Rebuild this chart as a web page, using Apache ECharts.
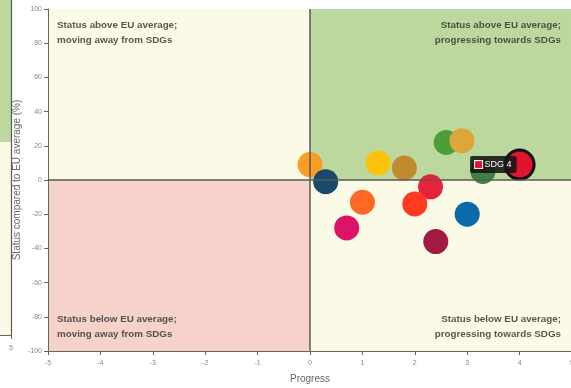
<!DOCTYPE html>
<html>
<head>
<meta charset="utf-8">
<script src="https://cdn.jsdelivr.net/npm/echarts@6/dist/echarts.min.js"></script>
<style>
  html, body { margin: 0; padding: 0; background: #ffffff; }
  #chart { width: 571px; height: 388px; }
</style>
</head>
<body>
<div id="chart"></div>
<script>
// SDG goals shown: progress score (x) and status vs EU average in % (y)
const goals    = ['SDG 11', 'SDG 17', 'SDG 7', 'SDG 12', 'SDG 3', 'SDG 2', 'SDG 13', 'SDG 1', 'SDG 5', 'SDG 9', 'SDG 10', 'SDG 16', 'SDG 8', 'SDG 4'];
const progress = [0.0, 0.3, 1.3, 1.8, 2.6, 2.9, 3.3, 2.3, 2.0, 1.0, 0.7, 3.0, 2.4, 4.0];
const status   = [9, -1, 10, 7, 22, 23, 5, -4, -14, -13, -28, -20, -36, 9];
const goalColors = ['#F99D26', '#19486A', '#FCC30B', '#BF8B2E', '#4C9F38', '#DDA63A', '#3F7E44', '#E5243B', '#FF3A21', '#FD6925', '#DD1367', '#0B6AA8', '#A21942', '#E0142C'];
const highlighted = 'SDG 4';

// Axis ticks
const xTicks = [-5, -4, -3, -2, -1, 0, 1, 2, 3, 4, 5];
const yTicks = [-100, -80, -60, -40, -20, 0, 20, 40, 60, 80, 100];

// Quadrant captions
const quadrantText = {
  tl: 'Status above EU average;\nmoving away from SDGs',
  tr: 'Status above EU average;\nprogressing towards SDGs',
  bl: 'Status below EU average;\nmoving away from SDGs',
  br: 'Status below EU average;\nprogressing towards SDGs'
};

const chart = echarts.init(document.getElementById('chart'), null, { renderer: 'canvas' });

const quadLabel = (pos, align, vAlign, dx) => ({
  show: true,
  position: pos,
  align: align,
  verticalAlign: vAlign,
  distance: 9,
  offset: [dx, 0],
  color: 'rgba(50,50,50,0.82)',
  fontFamily: 'Liberation Sans, Arial, sans-serif',
  fontWeight: 'bold',
  fontSize: 9.8,
  lineHeight: 15
});

const points = goals.map((g, i) => {
  const isHi = g === highlighted;
  return {
    name: g,
    value: [progress[i], status[i]],
    symbolSize: isHi ? 29 : 25,
    itemStyle: {
      color: goalColors[i],
      opacity: 1,
      borderColor: isHi ? '#111111' : 'transparent',
      borderWidth: isHi ? 3 : 0
    },
    z: isHi ? 5 : 2,
    label: isHi ? {
      show: true,
      position: 'left',
      distance: -13,
      formatter: '{sq|}{t| ' + g + '}',
      backgroundColor: 'rgba(20,20,20,0.88)',
      borderRadius: 2,
      padding: [4, 5, 4, 5],
      rich: {
        sq: { width: 7, height: 7, backgroundColor: goalColors[i], borderColor: '#ffffff', borderWidth: 1 },
        t: { color: '#ffffff', fontSize: 9, fontFamily: 'Liberation Sans, Arial, sans-serif' }
      }
    } : { show: false }
  };
});

const axisLabelStyle = { color: '#888888', fontSize: 7, fontFamily: 'Liberation Sans, Arial, sans-serif' };

chart.setOption({
  animation: false,
  grid: [
    { left: 48, right: -1, top: 9, bottom: 37, outerBoundsMode: 'none', containLabel: false },
    // neighbouring panel, only its right edge fits in the frame
    { left: 0, width: 11, top: 0, bottom: 53, outerBoundsMode: 'none', containLabel: false }
  ],
  xAxis: [
    {
      gridIndex: 0, type: 'value', min: xTicks[0], max: xTicks[xTicks.length - 1], interval: 1,
      name: 'Progress', nameLocation: 'middle', nameGap: 23,
      nameTextStyle: { color: '#666666', fontSize: 10, fontFamily: 'Liberation Sans, Arial, sans-serif' },
      axisLine: { onZero: false, lineStyle: { color: '#666666', width: 1 } },
      axisTick: { show: true, length: 4, lineStyle: { color: '#666666' } },
      axisLabel: Object.assign({ margin: 9 }, axisLabelStyle),
      splitLine: { show: true, lineStyle: { color: 'rgba(0,0,0,0.045)', width: 1 } }
    },
    {
      gridIndex: 1, type: 'value', min: 4, max: 5, interval: 1,
      axisLine: { onZero: false, lineStyle: { color: '#666666' } },
      axisTick: { show: true, length: 4, lineStyle: { color: '#666666' } },
      axisLabel: Object.assign({ margin: 10, showMinLabel: false }, axisLabelStyle),
      splitLine: { show: false }
    }
  ],
  yAxis: [
    {
      gridIndex: 0, type: 'value', min: yTicks[0], max: yTicks[yTicks.length - 1], interval: 20,
      name: 'Status compared to EU average (%)', nameLocation: 'middle', nameGap: 26, nameRotate: 90,
      nameMoveOverlap: false,
      nameTextStyle: { color: '#666666', fontSize: 10, fontFamily: 'Liberation Sans, Arial, sans-serif' },
      axisLine: { show: true, onZero: false, lineStyle: { color: '#666666', width: 1 } },
      axisTick: { show: true, length: 4, lineStyle: { color: '#666666' } },
      axisLabel: Object.assign({ margin: 6 }, axisLabelStyle),
      splitLine: { show: true, lineStyle: { color: 'rgba(0,0,0,0.045)', width: 1 } }
    },
    {
      gridIndex: 1, type: 'value', min: -193, max: 142,
      axisLine: { show: false }, axisTick: { show: false }, axisLabel: { show: false },
      splitLine: { show: false }
    }
  ],
  series: [
    {
      type: 'scatter',
      xAxisIndex: 0, yAxisIndex: 0,
      symbol: 'circle',
      data: points,
      emphasis: { disabled: true },
      markArea: {
        silent: true,
        z: 0,
        data: [
          [{ coord: [-5, 0], itemStyle: { color: '#FAFAE6' }, label: quadLabel('insideTopLeft', 'left', 'top', 0), name: quadrantText.tl }, { coord: [0, 100] }],
          [{ coord: [0, 0], itemStyle: { color: '#BCD89F' }, label: quadLabel('insideTopRight', 'right', 'top', -2), name: quadrantText.tr }, { coord: [5, 100] }],
          [{ coord: [-5, -100], itemStyle: { color: '#F6D2CB' }, label: quadLabel('insideBottomLeft', 'left', 'bottom', 0), name: quadrantText.bl }, { coord: [0, 0] }],
          [{ coord: [0, -100], itemStyle: { color: '#FAFAE6' }, label: quadLabel('insideBottomRight', 'right', 'bottom', -2), name: quadrantText.br }, { coord: [5, 0] }]
        ]
      },
      markLine: {
        silent: true,
        symbol: 'none',
        label: { show: false },
        lineStyle: { color: '#5a5a5a', width: 1.5, type: 'solid' },
        data: [{ xAxis: 0 }, { yAxis: 0 }]
      }
    },
    {
      type: 'scatter',
      xAxisIndex: 1, yAxisIndex: 1,
      data: [],
      markArea: {
        silent: true,
        data: [
          [{ coord: [4, 0], itemStyle: { color: '#BCD89F' } }, { coord: [5, 142] }],
          [{ coord: [4, -193], itemStyle: { color: '#FAFAE6' } }, { coord: [5, 0] }]
        ]
      },
      markLine: {
        silent: true,
        symbol: 'none',
        label: { show: false },
        lineStyle: { color: '#5a5a5a', width: 1.2, type: 'solid' },
        data: [{ xAxis: 5 }]
      }
    }
  ]
});
</script>
</body>
</html>
